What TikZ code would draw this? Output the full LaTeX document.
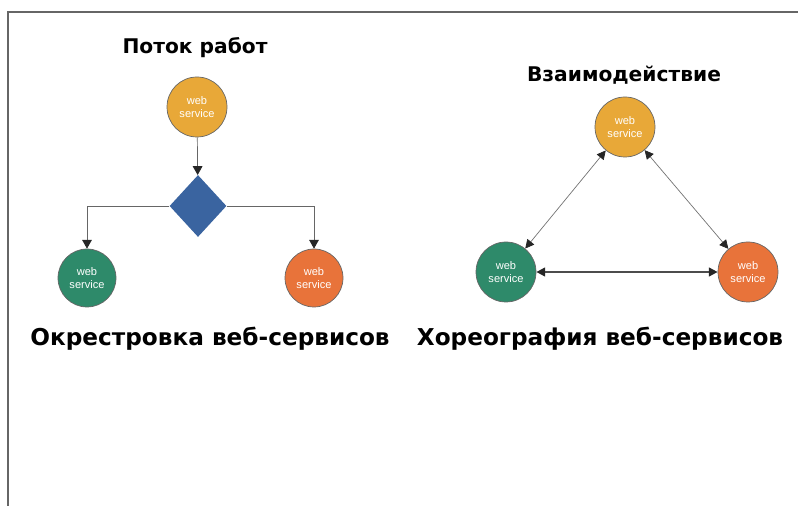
\documentclass[tikz,border=0pt]{standalone}
\usepackage{fontspec}
\setmainfont{DejaVu Sans}
\newfontfamily\wsfont{Liberation Sans}
\usetikzlibrary{arrows.meta,shapes.geometric}
\definecolor{wsyellow}{HTML}{E8A838}
\definecolor{wsgreen}{HTML}{2E8A6A}
\definecolor{wsorange}{HTML}{E8733A}
\definecolor{wsblue}{HTML}{3A64A0}
\begin{document}
\begin{tikzpicture}[x=0.02cm,y=-0.02cm,
    ws/.style={circle,draw=black!60,thin,minimum size=60*0.02cm,inner sep=0pt,
      text=white,font=\wsfont\fontsize{6.3}{7.5}\selectfont,align=center},
    ttl/.style={font=\bfseries\fontsize{11.5}{13}\selectfont},
    captxt/.style={font=\bfseries\fontsize{13.2}{16}\selectfont},
    flow/.style={draw=black!60,thin,-{Triangle[length=5pt,width=5.5pt,color=black!85]}},
    link/.style={draw=black!55,thin,{Triangle[length=5pt,width=5pt,color=black!85]}-{Triangle[length=5pt,width=5pt,color=black!85]}}]
  \useasboundingbox (0,0) rectangle (798,506);
  \draw[black!60,line width=1.5pt] (8,506) -- (8,12) -- (798,12);
  % orchestration
  \node[ttl] (t1) at (195,48) {Поток работ};
  \node[ws,fill=wsyellow] (a1) at (197,107) {web\\service};
  \node[diamond,fill=wsblue,minimum width=57*0.02cm,minimum height=62*0.02cm,inner sep=0pt] (d) at (198,206) {};
  \node[ws,fill=wsgreen,minimum size=58*0.02cm] (a2) at (87,278) {web\\service};
  \node[ws,fill=wsorange,minimum size=58*0.02cm] (a3) at (314,278) {web\\service};
  \draw[flow] (a1) -- (d);
  \draw[flow] (d.west) -| (a2.north);
  \draw[flow] (d.east) -| (a3.north);
  \node[captxt] (c1) at (210,339) {Окрестровка веб-сервисов};
  % choreography
  \node[ttl] (t2) at (624,75) {Взаимодействие};
  \node[ws,fill=wsyellow] (b1) at (625,127) {web\\service};
  \node[ws,fill=wsgreen] (b2) at (506,272) {web\\service};
  \node[ws,fill=wsorange] (b3) at (748,272) {web\\service};
  \draw[link] (b1) -- (b2);
  \draw[link] (b1) -- (b3);
  \draw[link,draw=black!70,line width=1pt] (b2) -- (b3);
  \node[captxt] (c2) at (600,339) {Хореография веб-сервисов};
\end{tikzpicture}
\end{document}
